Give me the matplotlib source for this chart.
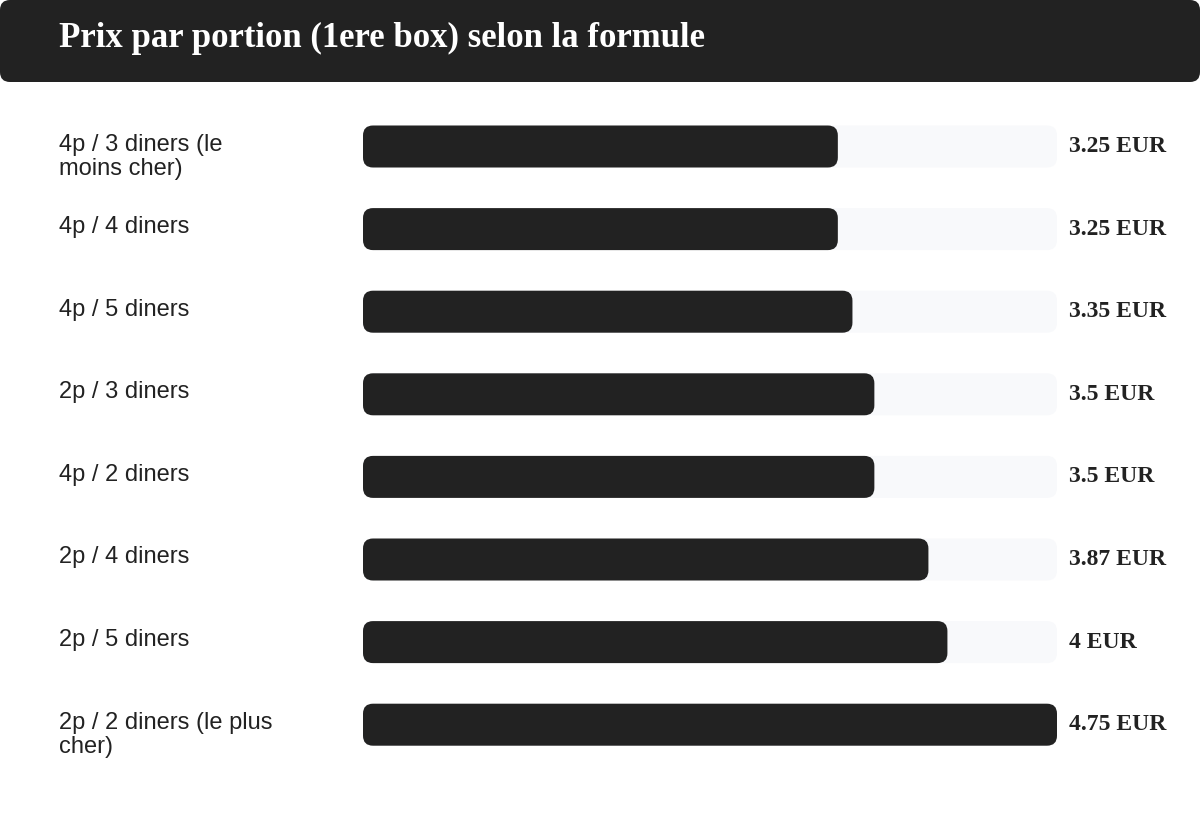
import matplotlib
matplotlib.use("Agg")
import matplotlib.pyplot as plt
from matplotlib.patches import FancyBboxPatch
from matplotlib import transforms

# ---- data ----
title = "Prix par portion (1ere box) selon la formule"
categories = [
    "4p / 3 diners (le\nmoins cher)",
    "4p / 4 diners",
    "4p / 5 diners",
    "2p / 3 diners",
    "4p / 2 diners",
    "2p / 4 diners",
    "2p / 5 diners",
    "2p / 2 diners (le plus\ncher)",
]
values = [3.25, 3.25, 3.35, 3.5, 3.5, 3.87, 4, 4.75]
unit = "EUR"

W, H, DPI = 1200, 813, 100
fig = plt.figure(figsize=(W / DPI, H / DPI), dpi=DPI)
fig.patch.set_facecolor("white")

DARK = "#222222"
TRACK = "#f8f9fb"

# background axes in pixel coordinates (decorations only)
bg = fig.add_axes([0, 0, 1, 1])
bg.set_xlim(0, W)
bg.set_ylim(H, 0)
bg.axis("off")
bg.add_patch(FancyBboxPatch((0, 0), W, 82, boxstyle="round,pad=0,rounding_size=10",
                            facecolor=DARK, edgecolor="none"))
bg.text(59, 47, title, color="white", fontsize=25, fontweight="bold",
        family="Liberation Serif", va="baseline", ha="left")

# bar axes
n = len(values)
x0, x1 = 363, 1057
row = 82.6
top_c = 146.5
y_top = top_c - row / 2
y_bot = top_c + (n - 1) * row + row / 2
ax = fig.add_axes([x0 / W, (H - y_bot) / H, (x1 - x0) / W, (y_bot - y_top) / H])
vmax = max(values)
ax.set_xlim(0, vmax)
ax.set_ylim(n - 0.5, -0.5)
ax.axis("off")

px_per_x = (x1 - x0) / vmax
px_per_y = row
radius_px = 10
r_x = radius_px / px_per_x
aspect = px_per_x / px_per_y
bar_h = 42 / row

for i, v in enumerate(values):
    ax.add_patch(FancyBboxPatch((0, i - bar_h / 2), vmax, bar_h,
                                boxstyle=f"round,pad=0,rounding_size={r_x}",
                                mutation_aspect=aspect, facecolor=TRACK, edgecolor="none"))
    ax.add_patch(FancyBboxPatch((0, i - bar_h / 2), v, bar_h,
                                boxstyle=f"round,pad=0,rounding_size={r_x}",
                                mutation_aspect=aspect, facecolor=DARK, edgecolor="none"))
    ax.annotate(f"{v:g} {unit}", xy=(vmax, i), xytext=(12, -5.5), textcoords="offset pixels",
                fontsize=17, fontweight="bold", family="Liberation Serif",
                color=DARK, va="baseline", ha="left", annotation_clip=False)

trans = transforms.blended_transform_factory(bg.transData, ax.transData)
line_px = 24
for i, lab in enumerate(categories):
    for k, line in enumerate(lab.split("\n")):
        ax.text(59, i + (4 + k * line_px) / row, line, transform=trans, fontsize=17,
                family="Liberation Sans", color=DARK, va="baseline", ha="left",
                clip_on=False)

fig.savefig("out.png", dpi=DPI)
